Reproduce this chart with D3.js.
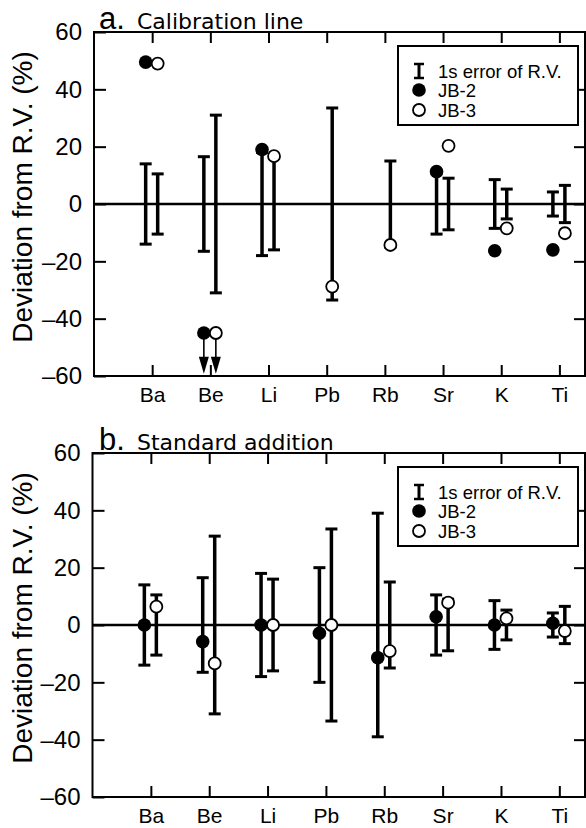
<!DOCTYPE html>
<html>
<head>
<meta charset="utf-8">
<script src="https://cdn.jsdelivr.net/npm/d3@7"></script>
<style>
  body { margin: 0; background: #fff; }
  svg { display: block; }
</style>
</head>
<body>
<svg id="chart" width="586" height="828"></svg>
<script>
// element labels on the x axis
const elements = ["Ba", "Be", "Li", "Pb", "Rb", "Sr", "K", "Ti"];
const yTicks = [-60, -40, -20, 0, 20, 40, 60];

// 1s error of the reference values (%), one per sample
const rvErrJB2 = [14, 16.5, 18, 20, 39, 10.5, 8.5, 4.2];
const rvErrJB3 = [10.5, 31, 16, 33.5, 15, 9, 5.2, 6.5];

// a. calibration line (null = not measured)
const calibJB2 = [49.5, -45, 19, null, null, 11.3, -16.3, -16];
const calibJB3 = [49, -45, 16.7, -28.8, -14.3, 20.3, -8.5, -10.2];
const calibArrows = ["Be"]; // values that are upper limits (arrow down)

// b. standard addition
const stdJB2 = [0, -5.8, 0, -2.9, -11.4, 2.9, 0, 0.6];
const stdJB3 = [6.4, -13.4, 0, 0, -9.1, 7.8, 2.3, -2.1];

const svg = d3.select("#chart");
const narrow = "'Liberation Sans Narrow', 'Liberation Sans', Arial, sans-serif";
const sans = "'Liberation Sans', Arial, sans-serif";

function panel(opts) {
    const { top, left, right, letter, title, jb2, jb3, arrows } = opts;
    const bottom = top + 344;
    const g = svg.append("g");

    const x = d3.scaleLinear().domain([-1, 7.44]).range([left, right]);
    const y = d3.scaleLinear().domain([-60, 60]).range([bottom, top]);
    const off2 = -6.5, off3 = 5.5;

    // left axis with inward ticks
    const yAx = g.append("g").attr("transform", `translate(${left},0)`)
        .call(d3.axisLeft(y).tickValues(yTicks).tickSize(-12).tickPadding(12)
            .tickFormat(d => d < 0 ? "\u2013" + Math.abs(d) : d));
    yAx.select(".domain").remove();
    yAx.selectAll("line").attr("stroke-width", 2);
    yAx.selectAll("text").attr("font-family", narrow).attr("font-size", 24).attr("fill", "#000");

    const yAxR = g.append("g").attr("transform", `translate(${right},0)`)
        .call(d3.axisRight(y).tickValues(yTicks.slice(1, -1)).tickSize(-11).tickFormat(""));
    yAxR.select(".domain").remove();
    yAxR.selectAll("line").attr("stroke-width", 2);

    const xTop = g.append("g").attr("transform", `translate(0,${top})`)
        .call(d3.axisTop(x).tickValues(d3.range(elements.length)).tickSize(-11).tickFormat(""));
    xTop.select(".domain").remove();
    xTop.selectAll("line").attr("stroke-width", 2);

    const xBot = g.append("g").attr("transform", `translate(0,${bottom})`)
        .call(d3.axisBottom(x).tickValues(d3.range(elements.length)).tickSize(-11).tickPadding(11)
            .tickFormat(i => elements[i]));
    xBot.select(".domain").remove();
    xBot.selectAll("line").attr("stroke-width", 2);
    xBot.selectAll("text").attr("font-family", sans)
        .attr("font-size", 21).attr("fill", "#000");

    // frame
    g.append("rect").attr("x", left).attr("y", top)
        .attr("width", right - left).attr("height", bottom - top)
        .attr("fill", "none").attr("stroke", "#000").attr("stroke-width", 2);

    // error bars of reference values, centred on zero
    const bars = [];
    elements.forEach((el, i) => {
        if (jb2[i] != null) bars.push({ cx: x(i) + off2, e: rvErrJB2[i] });
        if (jb3[i] != null) bars.push({ cx: x(i) + off3, e: rvErrJB3[i] });
    });
    const eb = g.append("g").attr("stroke", "#000");
    eb.selectAll(".v").data(bars).join("line")
        .attr("x1", d => d.cx).attr("x2", d => d.cx)
        .attr("y1", d => y(d.e)).attr("y2", d => y(-d.e))
        .attr("stroke-width", 3.5);
    eb.selectAll(".cap").data(bars.flatMap(d => [{ cx: d.cx, v: d.e }, { cx: d.cx, v: -d.e }]))
        .join("line")
        .attr("x1", d => d.cx - 6).attr("x2", d => d.cx + 6)
        .attr("y1", d => y(d.v)).attr("y2", d => y(d.v))
        .attr("stroke-width", 3);

    g.append("line").attr("x1", left).attr("x2", right)
        .attr("y1", y(0)).attr("y2", y(0))
        .attr("stroke", "#000").attr("stroke-width", 2.5);

    // points
    const pts = [];
    elements.forEach((el, i) => {
        if (jb2[i] != null) pts.push({ cx: x(i) + off2, v: jb2[i], s: "JB-2", el });
        if (jb3[i] != null) pts.push({ cx: x(i) + off3, v: jb3[i], s: "JB-3", el });
    });

    // arrows for values below the plotted range
    const arr = pts.filter(d => arrows.includes(d.el));
    const tip = y(-59.2);
    g.selectAll(".shaft").data(arr).join("line")
        .attr("x1", d => d.cx).attr("x2", d => d.cx)
        .attr("y1", d => y(d.v)).attr("y2", tip - 14)
        .attr("stroke", "#000").attr("stroke-width", 1.6);
    g.selectAll(".head").data(arr).join("path")
        .attr("d", d => `M${d.cx - 5},${tip - 17}L${d.cx + 5},${tip - 17}L${d.cx},${tip}Z`)
        .attr("fill", "#000");

    g.selectAll(".pt").data(pts).join("circle")
        .attr("cx", d => d.cx).attr("cy", d => y(d.v))
        .attr("r", d => d.s === "JB-2" ? 6.8 : 6)
        .attr("fill", d => d.s === "JB-2" ? "#000" : "#fff")
        .attr("stroke", "#000").attr("stroke-width", d => d.s === "JB-2" ? 0 : 1.8);

    // title
    g.append("text").attr("x", 99).attr("y", top - 3)
        .attr("font-family", sans).attr("font-size", 31)
        .text(letter);
    g.append("text").attr("x", 137).attr("y", top - 3)
        .attr("font-family", "'DejaVu Sans', sans-serif").attr("font-size", 22)
        .text(title);

    // y label
    g.append("text")
        .attr("transform", `translate(32,${(top + bottom) / 2 - 7}) rotate(-90)`)
        .attr("text-anchor", "middle")
        .attr("font-family", narrow).attr("font-size", 28)
        .text("Deviation from R.V. (%)");

    // legend
    const lg = g.append("g").attr("transform", `translate(398,${top + 14})`);
    lg.append("rect").attr("width", 180).attr("height", 79)
        .attr("fill", "#fff").attr("stroke", "#000").attr("stroke-width", 2);
    const rows = [25, 44, 64];
    lg.append("line").attr("x1", 21).attr("x2", 21).attr("y1", rows[0] - 7).attr("y2", rows[0] + 7)
        .attr("stroke", "#000").attr("stroke-width", 3);
    [rows[0] - 7, rows[0] + 7].forEach(cy => lg.append("line")
        .attr("x1", 16).attr("x2", 26).attr("y1", cy).attr("y2", cy)
        .attr("stroke", "#000").attr("stroke-width", 2.5));
    lg.append("circle").attr("cx", 21).attr("cy", rows[1]).attr("r", 6.8).attr("fill", "#000");
    lg.append("circle").attr("cx", 21).attr("cy", rows[2]).attr("r", 6)
        .attr("fill", "#fff").attr("stroke", "#000").attr("stroke-width", 1.8);
    ["1s error of R.V.", "JB-2", "JB-3"].forEach((t, i) => lg.append("text")
        .attr("x", 40).attr("y", rows[i] + 6.5)
        .attr("font-family", sans).attr("font-size", 18.5)
        .text(t));
}

panel({ top: 32, left: 94, right: 585, letter: "a.", title: "Calibration line",
        jb2: calibJB2, jb3: calibJB3, arrows: calibArrows });
panel({ top: 453, left: 92.5, right: 585, letter: "b.", title: "Standard addition",
        jb2: stdJB2, jb3: stdJB3, arrows: [] });
</script>
</body>
</html>
